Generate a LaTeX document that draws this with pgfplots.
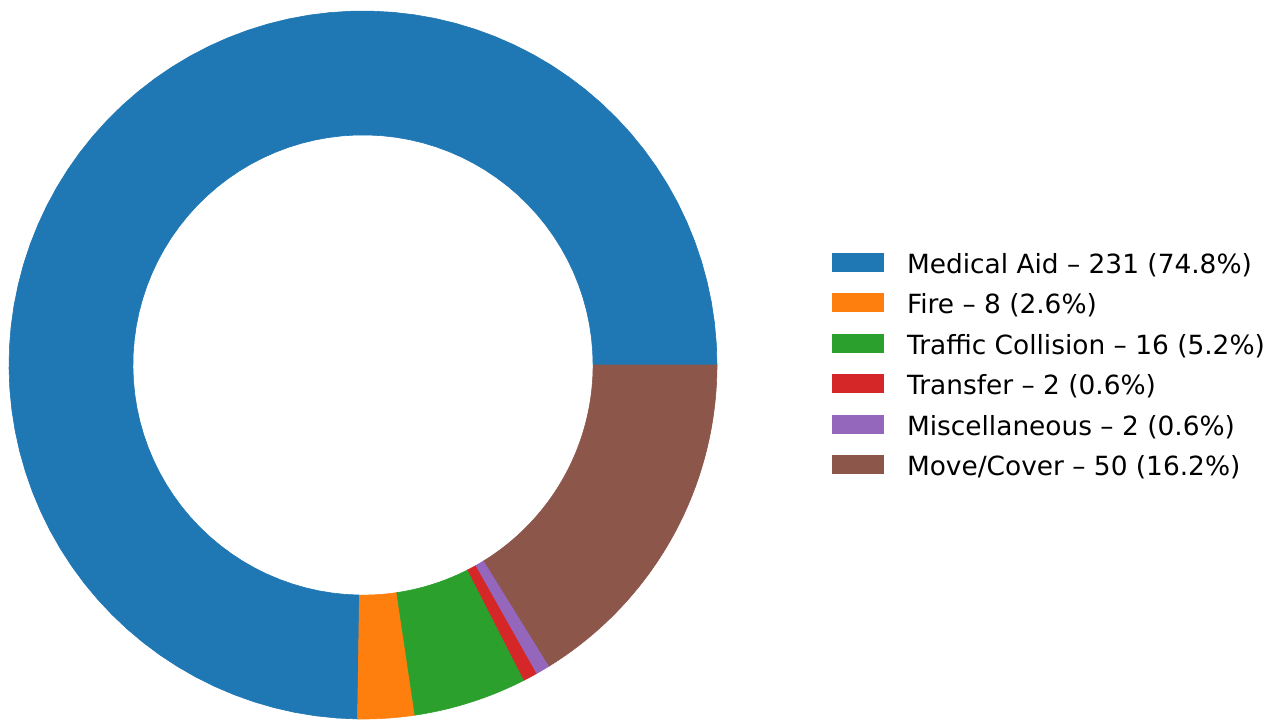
\documentclass[border=0pt]{standalone}
\usepackage{pgfplots}
\pgfplotsset{compat=1.18}
\usepgfplotslibrary{fillbetween}
\usepackage{fontspec}
\setmainfont{DejaVu Sans}

\definecolor{c1}{HTML}{1F77B4}
\definecolor{c2}{HTML}{FF7F0E}
\definecolor{c3}{HTML}{2CA02C}
\definecolor{c4}{HTML}{D62728}
\definecolor{c5}{HTML}{9467BD}
\definecolor{c6}{HTML}{8C564B}

% ring sector between cumulative counts #1 and #2 (total 309)
\newcommand{\sector}[3]{%
  \pgfmathsetmacro\sa{#1/309*360}%
  \pgfmathsetmacro\sb{#2/309*360}%
  \addplot[draw=none, name path=out#3, domain=\sa:\sb, samples=80, forget plot]
    ({cos(x)},{sin(x)});
  \addplot[draw=none, name path=in#3, domain=\sa:\sb, samples=80, forget plot]
    ({0.65*cos(x)},{0.65*sin(x)});
  \addplot[fill=#3, draw=#3, line width=0.3pt, forget plot]
    fill between[of=out#3 and in#3];
}

\begin{document}
\begin{tikzpicture}
\begin{axis}[
  hide axis,
  x=177pt, y=177pt,
  xmin=-1.0254, xmax=2.5989,
  ymin=-1.0028, ymax=1.0311,
  clip=false,
  legend image code/.code={\fill[#1] (0pt,-2.8pt) rectangle (26pt,6.7pt);},
  legend style={
    at={(axis cs:1.3249,0.3164)}, anchor=north west,
    draw=none, fill=none, inner sep=0pt, outer sep=0pt,
    row sep=7pt, column sep=11.5pt,
    font=\fontsize{13.2}{15}\selectfont,
    nodes={inner sep=0pt, text height=10pt, text depth=3pt},
  },
  legend cell align=left,
]
\sector{0}{231}{c1}
\sector{231}{239}{c2}
\sector{239}{255}{c3}
\sector{255}{257}{c4}
\sector{257}{259}{c5}
\sector{259}{309}{c6}

\addlegendimage{fill=c1, draw=none}
\addlegendentry{Medical Aid – 231 (74.8\%)}
\addlegendimage{fill=c2, draw=none}
\addlegendentry{Fire – 8 (2.6\%)}
\addlegendimage{fill=c3, draw=none}
\addlegendentry{Traffic Collision – 16 (5.2\%)}
\addlegendimage{fill=c4, draw=none}
\addlegendentry{Transfer – 2 (0.6\%)}
\addlegendimage{fill=c5, draw=none}
\addlegendentry{Miscellaneous – 2 (0.6\%)}
\addlegendimage{fill=c6, draw=none}
\addlegendentry{Move/Cover – 50 (16.2\%)}

\path (rel axis cs:0,0) rectangle (rel axis cs:1,1);
\end{axis}
\end{tikzpicture}
\end{document}
